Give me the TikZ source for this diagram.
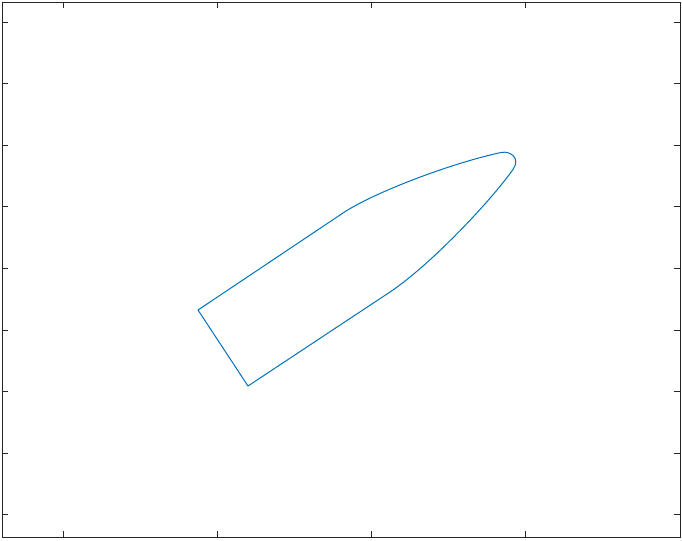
\documentclass[tikz,border=0pt]{standalone}
\definecolor{mblue}{RGB}{0,114,189}
\definecolor{axgray}{RGB}{38,38,38}
\begin{document}
\begin{tikzpicture}[x=0.75pt,y=-0.75pt,
  axis/.style={draw=axgray,line width=0.75pt},
  curve/.style={draw=mblue,line width=0.75pt,line join=round}]
\useasboundingbox (0,0) rectangle (682,540);
% axes box
\draw[axis] (2,2) rectangle (680,537);
\foreach \x in {63,217,371,525}{
  \draw[axis] (\x,537) -- (\x,531);
  \draw[axis] (\x,2) -- (\x,8);
}
\foreach \k in {0,...,8}{
  \pgfmathsetmacro{\yy}{22+61.6*\k}
  \draw[axis] (2,\yy) -- (8,\yy);
  \draw[axis] (680,\yy) -- (674,\yy);
}
% shape
\draw[curve] (198,310) -- (343,213)
  .. controls (373,192.9) and (450,163.5) .. (501,152.5)
  .. controls (510,150.5) and (521,158) .. (513,169.5)
  .. controls (489,203) and (430,265.2) .. (390,292)
  -- (248,386) -- cycle;
\end{tikzpicture}
\end{document}
